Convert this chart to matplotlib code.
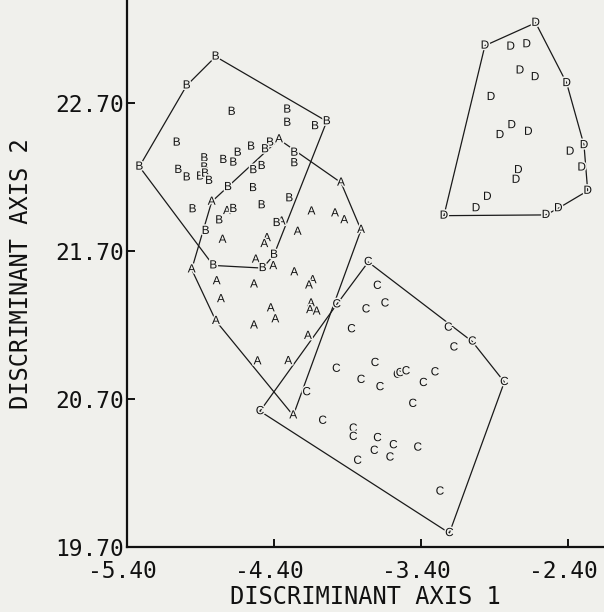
import numpy as np
import matplotlib
matplotlib.use('Agg')
import matplotlib.pyplot as plt
import matplotlib.patheffects as pe
from matplotlib.transforms import ScaledTranslation

# ---------------- data ----------------
a_x = [-4.366, -3.944, -3.808, -4.269, -4.795, -4.960, -4.824, -4.720, -4.145, -3.985,
       -3.922, -4.348, -4.239, -4.750, -4.448, -4.466, -4.524, -4.405, -4.262, -4.790,
       -4.536, -4.137, -4.162, -4.761, -4.422, -4.148, -4.155, -4.110, -4.391, -4.536,
       -4.169, -4.512, -4.303]
a_y = [22.452, 22.160, 21.841, 20.588, 21.226, 21.574, 22.031, 21.968, 21.965, 21.952,
       21.906, 21.897, 21.828, 21.774, 21.785, 21.745, 21.640, 21.596, 21.554, 21.494,
       21.472, 21.501, 21.465, 21.373, 21.311, 21.344, 21.299, 21.289, 21.237, 21.195,
       21.125, 20.953, 20.955]

b_x = [-4.797, -4.994, -5.316, -4.688, -4.310, -4.310, -4.121, -4.041, -5.062, -4.556,
       -4.647, -4.427, -4.461, -4.262, -4.262, -4.874, -4.745, -4.677, -5.051, -4.994,
       -4.903, -4.874, -4.869, -4.842, -4.541, -4.484, -4.713, -4.543, -4.954, -4.677,
       -4.484, -4.296, -4.773, -4.865, -4.382, -4.400, -4.813, -4.477]
b_y = [23.011, 22.816, 22.268, 22.638, 22.653, 22.564, 22.541, 22.574, 22.430, 22.403,
       22.362, 22.430, 22.385, 22.362, 22.291, 22.324, 22.313, 22.295, 22.246, 22.195,
       22.201, 22.262, 22.221, 22.172, 22.244, 22.272, 22.130, 22.123, 21.980, 21.982,
       22.007, 22.054, 21.905, 21.834, 21.887, 21.673, 21.601, 21.583]

c_x = [-3.759, -3.697, -3.645, -3.774, -3.973, -3.873, -3.214, -3.051, -3.176, -2.833,
       -3.713, -3.976, -3.808, -3.679, -3.561, -3.543, -3.502, -3.305, -3.384, -3.456,
       -4.178, -4.495, -4.069, -3.861, -3.861, -3.696, -3.588, -3.718, -3.611, -3.422,
       -3.831, -3.271, -3.207]
c_y = [21.624, 21.463, 21.344, 21.304, 21.338, 21.170, 21.181, 21.087, 21.047, 20.814,
       20.942, 20.903, 20.828, 20.779, 20.863, 20.874, 20.886, 20.879, 20.807, 20.666,
       20.745, 20.617, 20.552, 20.499, 20.443, 20.435, 20.387, 20.349, 20.304, 20.371,
       20.282, 20.074, 19.794]

d_x = [-2.620, -2.965, -2.790, -2.681, -2.727, -2.624, -2.409, -2.924, -2.783, -2.863,
       -2.670, -2.291, -2.386, -2.307, -2.738, -2.754, -2.266, -2.949, -3.026, -3.244,
       -2.550, -2.466]
d_y = [23.239, 23.085, 23.078, 23.094, 22.917, 22.872, 22.832, 22.738, 22.548, 22.481,
       22.503, 22.413, 22.369, 22.262, 22.244, 22.179, 22.105, 22.064, 21.987, 21.937,
       21.942, 21.987]

groups = ['A', 'B', 'C', 'D']
xticks = [-5.40, -4.40, -3.40, -2.40]
xtick_labels = ['-5.40', '-4.40', '-3.40', '-2.40']
yticks = [19.70, 20.70, 21.70, 22.70]
ytick_labels = ['19.70', '20.70', '21.70', '22.70']

bg = '#f0f0ec'


def convex_hull(x, y):
    pts = sorted(set(zip(x, y)))

    def cross(o, a, b):
        return (a[0] - o[0]) * (b[1] - o[1]) - (a[1] - o[1]) * (b[0] - o[0])

    lower = []
    for p in pts:
        while len(lower) >= 2 and cross(lower[-2], lower[-1], p) <= 0:
            lower.pop()
        lower.append(p)
    upper = []
    for p in reversed(pts):
        while len(upper) >= 2 and cross(upper[-2], upper[-1], p) <= 0:
            upper.pop()
        upper.append(p)
    h = lower[:-1] + upper[:-1]
    h.append(h[0])
    return np.array(h)


fig = plt.figure(figsize=(6.04, 6.12), dpi=100, facecolor=bg)
ax = fig.add_axes([127 / 604, 65 / 612, 477 / 604, 547 / 612])
ax.set_facecolor(bg)

for name, xs, ys in zip(groups, [a_x, b_x, c_x, d_x], [a_y, b_y, c_y, d_y]):
    h = convex_hull(xs, ys)
    ax.plot(h[:, 0], h[:, 1], color='#1a1a1a', lw=0.9, zorder=2)
    for xi, yi in zip(xs, ys):
        ax.text(xi, yi, name, ha='center', va='center', fontsize=8.5,
                family='Liberation Sans', color='#111111', zorder=3,
                path_effects=[pe.withStroke(linewidth=2.2, foreground=bg)])

ax.set_xlim(-5.40, -2.155)
ax.set_ylim(19.70, 23.393)

for s in ['top', 'right']:
    ax.spines[s].set_visible(False)
for s in ['left', 'bottom']:
    ax.spines[s].set_linewidth(1.6)
    ax.spines[s].set_color('#111111')

ax.set_xticks(xticks)
ax.set_xticklabels(xtick_labels)
ax.set_yticks(yticks)
ax.set_yticklabels(ytick_labels)
ax.tick_params(direction='in', length=6, width=1.4, color='#111111',
               labelsize=16.5, labelcolor='#111111')
ax.tick_params(axis='y', pad=2)
ax.tick_params(axis='x', pad=9)
for lab in ax.get_xticklabels() + ax.get_yticklabels():
    lab.set_family('DejaVu Sans Mono')
shift = ScaledTranslation(-5 / 100, 0, fig.dpi_scale_trans)
for lab in ax.get_xticklabels():
    lab.set_transform(lab.get_transform() + shift)

ax.set_xlabel('DISCRIMINANT AXIS 1', family='DejaVu Sans Mono', fontsize=17,
              color='#111111', labelpad=2)
ax.set_ylabel('DISCRIMINANT AXIS 2', family='DejaVu Sans Mono', fontsize=17,
              color='#111111', labelpad=16)

fig.savefig('out.png', dpi=100, facecolor=bg)
